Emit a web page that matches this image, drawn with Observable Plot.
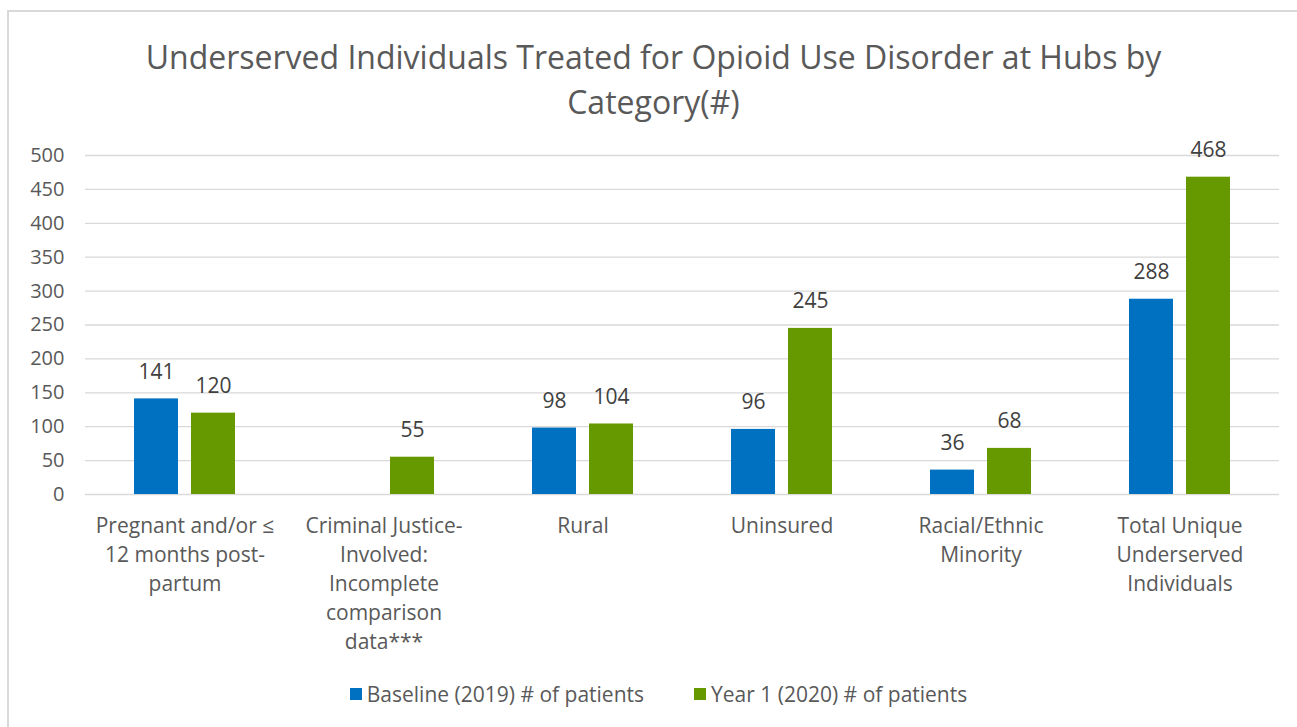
<!DOCTYPE html>
<html>
<head>
<meta charset="utf-8">
<script src="https://cdn.jsdelivr.net/npm/d3@7"></script>
<script src="https://cdn.jsdelivr.net/npm/@observablehq/plot@0.6"></script>
<style>
  html, body { margin: 0; padding: 0; background: #fff; overflow: hidden; }
  body { width: 1297px; height: 727px; position: relative; font-family: "Open Sans", sans-serif; color: #595959; }
  #frame { position: absolute; left: 7px; top: 10px; width: 1400px; height: 800px; border-left: 2px solid #d9d9d9; border-top: 2px solid #d9d9d9; }
  #title { position: absolute; left: 5px; top: 34px; width: 1297px; text-align: center; font-size: 32px; line-height: 45px; color: #595959; }
  #chart { position: absolute; left: 0; top: 130px; }
  #legend { position: absolute; left: 10px; top: 678px; width: 1297px; text-align: center; font-size: 21px; color: #595959; }
  .item { display: inline-flex; align-items: center; margin: 0 25px; }
  .sw { display: inline-block; width: 12px; height: 12px; margin-right: 5px; }
</style>
</head>
<body>
<div id="frame"></div>
<div id="title">Underserved Individuals Treated for Opioid Use Disorder at Hubs by<br>Category(#)</div>
<div id="chart"></div>
<div id="legend"></div>
<script>
const categories = [
  "Pregnant and/or ≤\n12 months post-\npartum",
  "Criminal Justice-\nInvolved:\nIncomplete\ncomparison\ndata***",
  "Rural",
  "Uninsured",
  "Racial/Ethnic\nMinority",
  "Total Unique\nUnderserved\nIndividuals"
];
const seriesNames = ["Baseline (2019) # of patients", "Year 1 (2020) # of patients"];
const baseline = [141, null, 98, 96, 36, 288];
const year1 = [120, 55, 104, 245, 68, 468];
const colors = ["#0070C0", "#669900"];
const yTicks = [0, 50, 100, 150, 200, 250, 300, 350, 400, 450, 500];

const rows = [];
categories.forEach((c, i) => {
  if (baseline[i] != null) rows.push({category: c, series: seriesNames[0], value: baseline[i]});
  if (year1[i] != null) rows.push({category: c, series: seriesNames[1], value: year1[i]});
});

const font = "'Open Sans', sans-serif";
const chart = Plot.plot({
  width: 1297,
  height: 535,
  marginLeft: 84,
  marginRight: 18,
  marginTop: 25,
  marginBottom: 171,
  style: {fontFamily: font, fontSize: "19px", color: "#595959", background: "transparent"},
  fx: {domain: categories, padding: 0, label: null},
  x: {domain: seriesNames, paddingInner: 0.22, paddingOuter: 0.85, axis: null},
  y: {domain: [0, 500], label: null},
  color: {domain: seriesNames, range: colors},
  marks: [
    Plot.ruleY(yTicks, {stroke: "#d9d9d9", strokeWidth: 1.3}),
    Plot.axisY({ticks: yTicks, tickSize: 0, tickPadding: 21, fill: "#595959", fontSize: 20, label: null}),
    Plot.axisFx({anchor: "bottom", tickSize: 0, tickPadding: 18, lineAnchor: "top", lineHeight: 1.38, fill: "#595959", fontSize: 21, label: null}),
    Plot.barY(rows, {fx: "category", x: "series", y: "value", fill: "series"}),
    Plot.text(rows, {fx: "category", x: "series", y: "value", text: d => String(d.value), dy: -27, fill: "#404040", fontSize: 21})
  ]
});
document.getElementById("chart").appendChild(chart);

const legend = document.getElementById("legend");
seriesNames.forEach((s, i) => {
  const it = document.createElement("span");
  it.className = "item";
  const sw = document.createElement("span");
  sw.className = "sw";
  sw.style.background = colors[i];
  it.appendChild(sw);
  it.appendChild(document.createTextNode(s));
  legend.appendChild(it);
});
</script>
</body>
</html>
